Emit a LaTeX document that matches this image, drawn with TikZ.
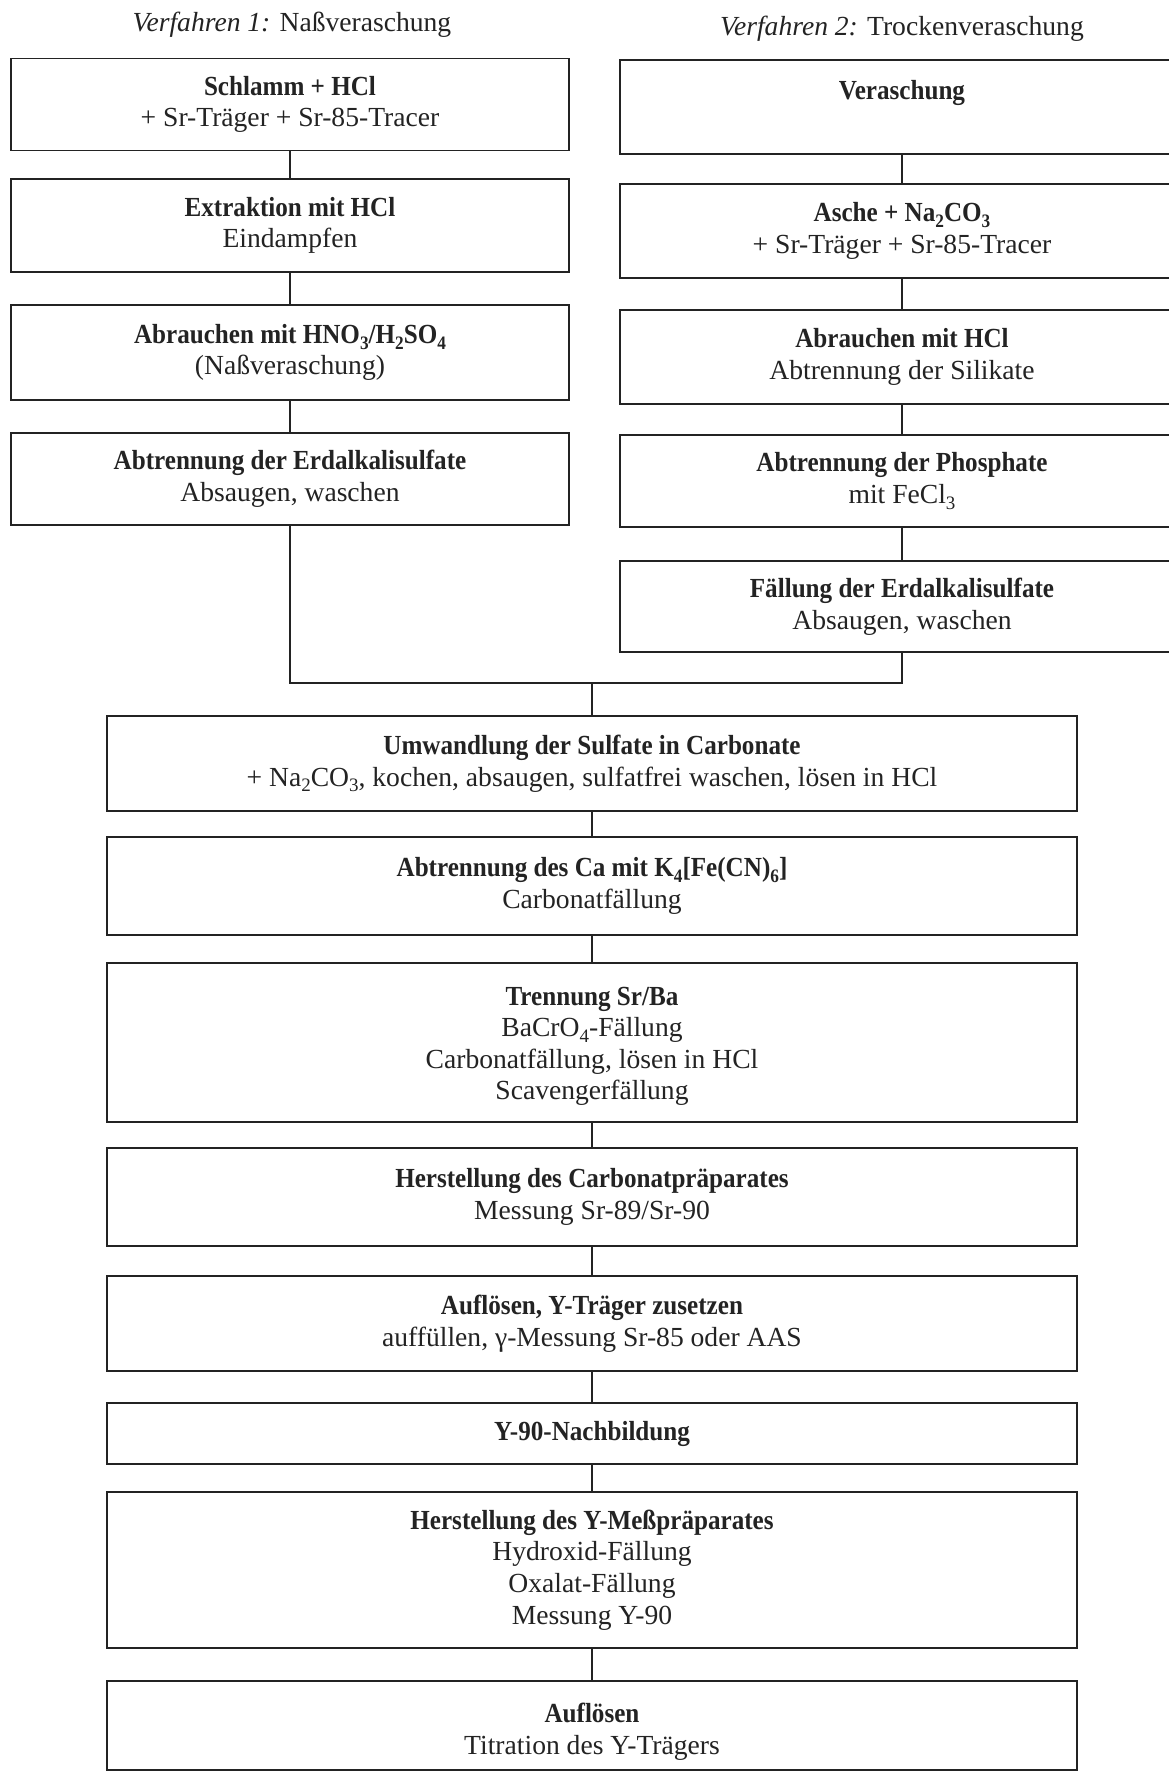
\documentclass[tikz,border=0pt]{standalone}
\usepackage{fontspec}
\setmainfont{Liberation Serif}[BoldFeatures={FakeStretch=0.91}]
\definecolor{ink}{RGB}{35,35,35}
\newcommand\fsz{\fontsize{13.8}{15.8}\selectfont}
\newcommand\lowsub[1]{\raisebox{-0.45ex}{\fontsize{9.5}{10}\selectfont #1}}
\tikzset{
  x=0.5pt, y=-0.5pt,
  stepbox/.style={draw=ink, text=ink, line width=0.9pt, inner sep=0pt, align=center, font=\fsz},
  colL/.style={stepbox, minimum width=279pt},
  colR/.style={stepbox, minimum width=282pt},
  colC/.style={stepbox, minimum width=485pt},
  title/.style={text=ink, font=\fsz, inner sep=0pt},
  link/.style={draw=ink, line width=0.6pt}
}
\begin{document}
\begin{tikzpicture}
\useasboundingbox[fill=white] (0,0) rectangle (1168,1773);
% titles
\node[title] (t1) at (292,25) {\textit{Verfahren 1:} Naßveraschung};
\node[title] (t2) at (902,29) {\textit{Verfahren 2:} Trockenveraschung};
% left column
\node[colL, minimum height=46pt] (L1) at (290,104.5) {\textbf{Schlamm + HCl}\\+ Sr-Träger + Sr-85-Tracer};
\node[colL, minimum height=46.5pt] (L2) at (290,225.5) {\textbf{Extraktion mit HCl}\\Eindampfen};
\node[colL, minimum height=47.5pt] (L3) at (290,352.5) {\textbf{Abrauchen mit HNO\lowsub{3}/H\lowsub{2}SO\lowsub{4}}\\(Naßveraschung)};
\node[colL, minimum height=46pt] (L4) at (290,479) {\textbf{Abtrennung der Erdalkalisulfate}\\Absaugen, waschen};
% right column
\node[colR, minimum height=47pt] (R1) at (902,107) {\rule{0pt}{13pt}\textbf{Veraschung}\\\strut};
\node[colR, minimum height=47pt] (R2) at (902,231) {\textbf{Asche + Na\lowsub{2}CO\lowsub{3}}\\+ Sr-Träger + Sr-85-Tracer};
\node[colR, minimum height=47pt] (R3) at (902,357) {\textbf{Abrauchen mit HCl}\\Abtrennung der Silikate};
\node[colR, minimum height=46pt] (R4) at (902,481) {\textbf{Abtrennung der Phosphate}\\mit FeCl\lowsub{3}};
\node[colR, minimum height=45.5pt] (R5) at (902,606.5) {\textbf{Fällung der Erdalkalisulfate}\\Absaugen, waschen};
% center column
\node[colC, minimum height=47.5pt] (C1) at (592,763.5) {\textbf{Umwandlung der Sulfate in Carbonate}\\+ Na\lowsub{2}CO\lowsub{3}, kochen, absaugen, sulfatfrei waschen, lösen in HCl};
\node[colC, minimum height=49pt] (C2) at (592,886) {\textbf{Abtrennung des Ca mit K\lowsub{4}[Fe(CN)\lowsub{6}]}\\Carbonatfällung};
\node[colC, minimum height=79.5pt] (C3) at (592,1042.5) {\rule{0pt}{13pt}\textbf{Trennung Sr/Ba}\\BaCrO\lowsub{4}-Fällung\\Carbonatfällung, lösen in HCl\\Scavengerfällung};
\node[colC, minimum height=49pt] (C4) at (592,1197) {\textbf{Herstellung des Carbonatpräparates}\\Messung Sr-89/Sr-90};
\node[colC, minimum height=47.5pt] (C5) at (592,1323.5) {\textbf{Auflösen, Y-Träger zusetzen}\\auffüllen, γ-Messung Sr-85 oder AAS};
\node[colC, minimum height=30.5pt] (C6) at (592,1433.5) {\textbf{Y-90-Nachbildung}};
\node[colC, minimum height=78pt] (C7) at (592,1570) {\textbf{Herstellung des Y-Meßpräparates}\\Hydroxid-Fällung\\Oxalat-Fällung\\Messung Y-90};
\node[colC, minimum height=44.5pt] (C8) at (592,1725.5) {\rule{0pt}{16pt}\textbf{Auflösen}\\Titration des Y-Trägers};
% connectors
\draw[link] (L1) -- (L2);
\draw[link] (L2) -- (L3);
\draw[link] (L3) -- (L4);
\draw[link] (R1.south) -- (R2.north);
\draw[link] (R2.south) -- (R3.north);
\draw[link] (R3.south) -- (R4.north);
\draw[link] (R4.south) -- (R5.north);
\coordinate (m) at (592,683);
\draw[link] (L4.south) |- (m) -| (R5.south);
\draw[link] (m) -- (C1.north);
\draw[link] (C1) -- (C2);
\draw[link] (C2) -- (C3);
\draw[link] (C3) -- (C4);
\draw[link] (C4) -- (C5);
\draw[link] (C5) -- (C6);
\draw[link] (C6) -- (C7);
\draw[link] (C7) -- (C8);
\end{tikzpicture}
\end{document}
